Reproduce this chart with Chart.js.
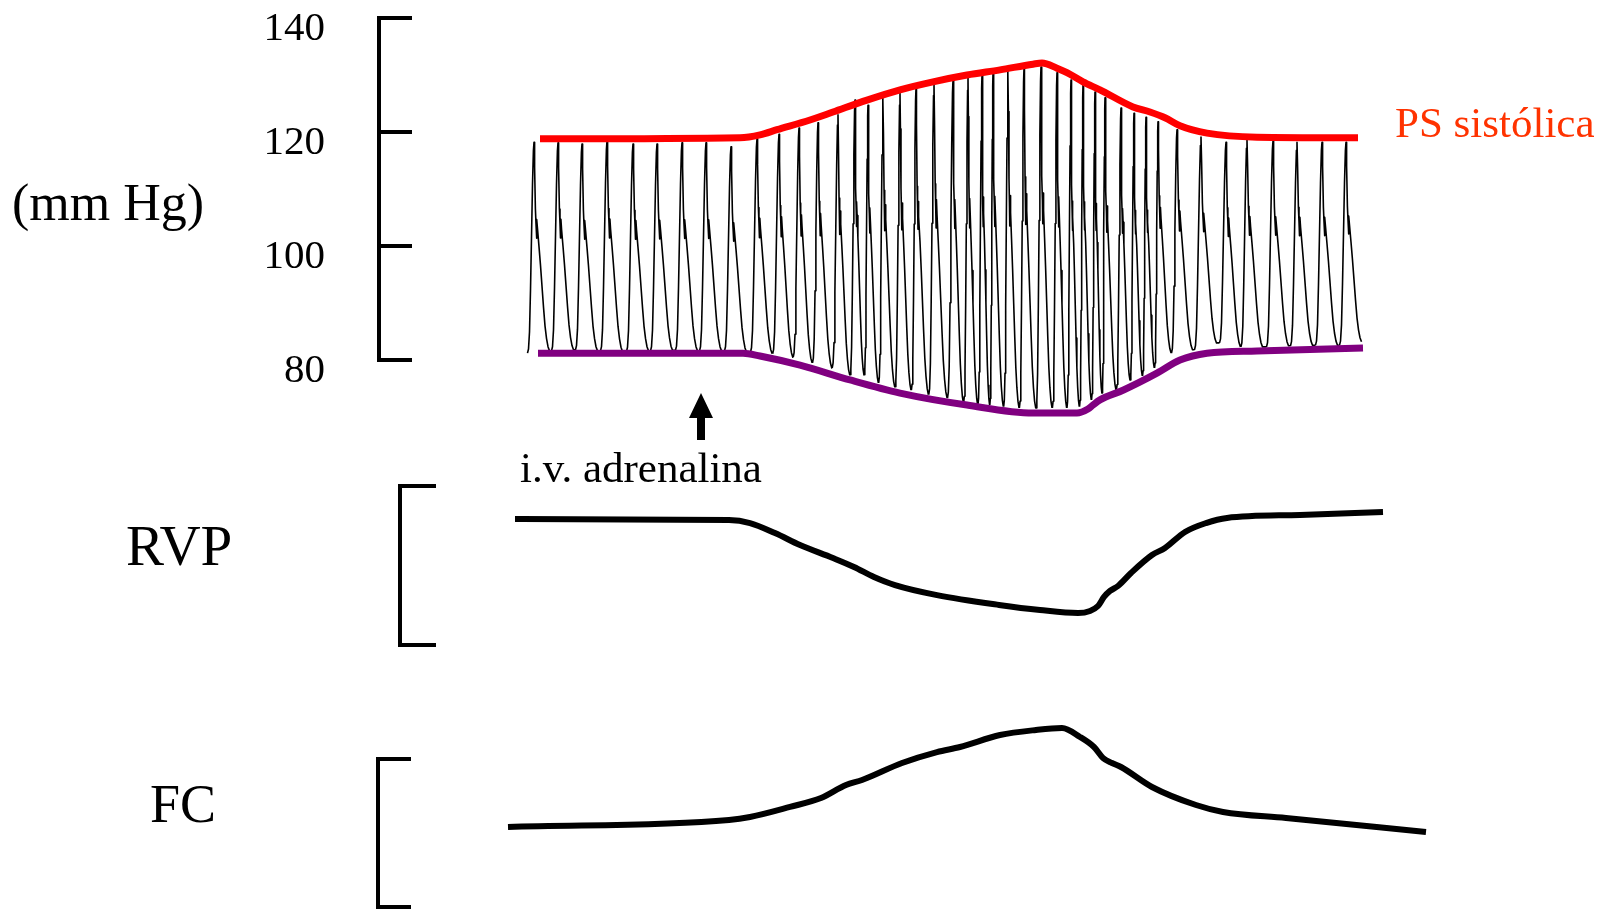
<!DOCTYPE html>
<html lang="es">
<head>
<meta charset="utf-8">
<title>Adrenalina i.v.: PS, RVP y FC</title>
<script src="https://cdn.jsdelivr.net/npm/chart.js@4/dist/chart.umd.min.js"></script>
<style>
  html, body { margin: 0; padding: 0; background: #ffffff; }
  #wrap { position: relative; width: 1597px; height: 911px; }
</style>
</head>
<body>
<div id="wrap"><canvas id="chart"></canvas></div>
<script>
// ---- Data (time in seconds) ----
// Arterial pressure beats: time of each systolic peak, peak pressure and the
// diastolic minimum reached after that beat (mmHg).
const beatTimes = [0.68, 1.16, 1.64, 2.14, 2.66, 3.14, 3.64, 4.12, 4.62, 5.14, 5.58, 5.98,
  6.36, 6.76, 7.10, 7.36, 7.66, 8.00, 8.32, 8.68, 9.06, 9.36, 9.64, 9.86, 10.16, 10.48,
  10.82, 11.14, 11.42, 11.66, 11.90, 12.10, 12.42, 12.68, 12.92, 13.16, 13.54, 14.02,
  14.52, 14.94, 15.46, 15.94, 16.44, 16.92];
const beatPeaks = [118.2, 118.1, 117.9, 118.4, 117.9, 117.9, 118.1, 118.1, 117.4, 118.8, 119.6, 120.7,
  121.6, 123.0, 125.6, 124.7, 126.0, 126.8, 127.7, 128.6, 129.1, 129.6, 130.0, 130.4, 130.7, 131.2,
  131.4, 130.4, 129.1, 128.2, 127.0, 126.0, 124.2, 123.3, 122.6, 121.8, 120.4, 119.1,
  118.2, 118.6, 118.4, 118.2, 118.2, 118.2];
const beatTroughs = [81.6, 81.8, 81.6, 81.5, 81.6, 81.7, 81.6, 81.6, 81.4, 81.1, 80.5, 79.5,
  78.6, 77.4, 77.4, 76.0, 75.3, 74.7, 73.9, 73.3, 72.5, 72.1, 72.1, 71.8, 71.6, 71.6,
  71.6, 71.6, 71.8, 73.0, 74.2, 74.7, 76.5, 77.2, 78.6, 81.2, 81.8, 83.0,
  82.3, 82.3, 82.5, 82.6, 82.6, 83.2];
const startPressure = 81.2;

// Shape of one pulse at resting rate: [seconds from peak, fraction of pulse height]
const upstrokeShape = [[-0.13, 0], [-0.11, 0.02], [-0.09, 0.1], [-0.07, 0.3], [-0.05, 0.55],
  [-0.03, 0.8], [-0.012, 0.96], [0, 1]];
const decayShape = [[0.012, 0.88], [0.028, 0.68], [0.04, 0.61], [0.05, 0.54], [0.058, 0.63],
  [0.072, 0.58], [0.1, 0.5], [0.13, 0.41], [0.16, 0.31], [0.19, 0.21], [0.22, 0.12],
  [0.25, 0.06], [0.28, 0.02], [0.31, 0]];
const restingInterval = 0.45;

// Systolic and diastolic envelopes (mmHg)
const systolicTimes = [0.80, 4.80, 5.20, 5.54, 6.20, 6.66, 7.34, 8.00, 8.66, 9.34, 10.00, 10.66,
  10.84, 11.14, 11.34, 11.66, 12.00, 12.66, 13.00, 13.30, 13.60, 14.14, 15.14, 17.16];
const systolicValues = [118.8, 119.0, 119.5, 120.4, 122.1, 123.5, 125.6, 127.4, 128.8, 130.0, 130.9, 131.9,
  132.1, 131.2, 130.4, 128.8, 127.4, 124.4, 123.5, 122.5, 121.1, 119.8, 119.1, 119.0];
const diastolicTimes = [0.76, 4.86, 5.20, 6.00, 7.00, 8.00, 9.34, 10.66, 11.54, 11.76, 11.86,
  12.00, 12.46, 13.14, 13.60, 14.14, 15.14, 17.26];
const diastolicValues = [81.2, 81.2, 80.7, 79.1, 76.5, 74.2, 72.1, 70.7, 70.7, 71.4, 72.1,
  73.0, 74.7, 77.7, 80.0, 81.2, 81.6, 82.1];

// Peripheral vascular resistance (relative units, bracket = 0..100)
const rvpTimes = [0.30, 4.58, 5.00, 5.50, 6.00, 6.66, 7.08, 7.48, 7.90, 8.74, 9.98, 10.80, 11.56,
  11.80, 11.96, 12.08, 12.20, 12.36, 12.62, 13.04, 13.30, 13.70, 14.12, 14.54, 16.00, 17.66];
const rvpValues = [79.2, 78.6, 76.7, 70.4, 62.9, 54.7, 49.1, 42.8, 37.7, 31.4, 25.2, 22.0, 20.1,
  21.4, 24.5, 30.2, 34.0, 37.1, 45.3, 56.6, 61.0, 71.1, 76.7, 79.9, 81.8, 83.6];

// Heart rate (relative units, bracket = 0..100)
const fcTimes = [0.16, 4.58, 5.00, 5.80, 6.42, 6.92, 7.24, 8.04, 8.74, 9.20, 10.00, 10.72, 11.24,
  11.60, 11.88, 12.06, 12.24, 12.42, 13.04, 13.92, 14.46, 15.72, 18.52];
const fcValues = [54.1, 58.8, 60.8, 67.6, 73.6, 82.4, 85.8, 97.3, 104.7, 108.1, 116.2, 119.6, 120.9,
  114.9, 108.1, 100.7, 97.3, 94.6, 81.1, 68.9, 64.2, 60.1, 50.7];

const pressureTicks = [80, 100, 120, 140];
const bracketRange = [0, 100];
const injectionTime = 4.02;

// ---- Page layout (pixels) ----
const W = 1597, H = 911;
const SERIF = '"Liberation Serif", "Times New Roman", Times, serif';
const panel = {
  pressure: { v0: 80, p0: 360, v1: 140, p1: 18, bracketX: 379, tickEnd: 412 },
  rvp:      { v0: 0,  p0: 645, v1: 100, p1: 486, bracketX: 400, tickEnd: 436 },
  fc:       { v0: 0,  p0: 907, v1: 100, p1: 759, bracketX: 378, tickEnd: 411 }
};
function rangeFor(p) {
  const perUnit = (p.p0 - p.p1) / (p.v1 - p.v0);
  const max = p.v1 + p.p1 / perUnit;
  return { min: max - H / perUnit, max: max };
}
const xPerSecond = 50, xOrigin = 500;

// ---- Build the pulse trace from the beats ----
function pressureTrace() {
  const pts = [];
  let prevTrough = startPressure;
  const n = beatTimes.length;
  for (let i = 0; i < n; i++) {
    const t = beatTimes[i], peak = beatPeaks[i], trough = beatTroughs[i];
    const before = i > 0 ? t - beatTimes[i - 1] : beatTimes[1] - beatTimes[0];
    const after = i < n - 1 ? beatTimes[i + 1] - t : before;
    const sUp = Math.min(1, before / restingInterval);
    const sDown = Math.min(1, after / restingInterval);
    upstrokeShape.forEach(([dt, f]) => pts.push({ x: t + dt * sUp, y: prevTrough + f * (peak - prevTrough) }));
    decayShape.forEach(([dt, f]) => pts.push({ x: t + dt * sDown, y: trough + f * (peak - trough) }));
    const decayEnd = t + decayShape[decayShape.length - 1][0] * sDown;
    if (i < n - 1) {
      const sNext = Math.min(1, after / restingInterval);
      const nextStart = beatTimes[i + 1] + upstrokeShape[0][0] * sNext;
      if (nextStart > decayEnd) pts.push({ x: nextStart, y: trough });
    }
    pts.push({ x: decayEnd, y: null });
    prevTrough = trough;
  }
  return pts;
}
const zip = (xs, ys) => xs.map((x, i) => ({ x: x, y: ys[i] }));

// ---- Brackets, tick labels, titles and the injection arrow ----
const decorations = {
  id: 'decorations',
  afterDatasetsDraw(chart) {
    const ctx = chart.ctx;
    const sx = chart.scales.x, sp = chart.scales.yP, sr = chart.scales.yR, sf = chart.scales.yF;
    ctx.save();
    ctx.strokeStyle = '#000';
    ctx.fillStyle = '#000';
    ctx.lineWidth = 4;
    ctx.lineCap = 'butt';

    // pressure bracket with ticks
    const pb = panel.pressure;
    const top = sp.getPixelForValue(pressureTicks[pressureTicks.length - 1]);
    const bot = sp.getPixelForValue(pressureTicks[0]);
    ctx.beginPath();
    ctx.moveTo(pb.bracketX, top - 2);
    ctx.lineTo(pb.bracketX, bot + 2);
    pressureTicks.forEach(v => {
      const y = sp.getPixelForValue(v);
      ctx.moveTo(pb.bracketX - 2, y);
      ctx.lineTo(pb.tickEnd, y);
    });
    ctx.stroke();

    ctx.font = '41px ' + SERIF;
    ctx.textAlign = 'right';
    ctx.textBaseline = 'alphabetic';
    pressureTicks.forEach(v => {
      ctx.fillText(String(v), 325, sp.getPixelForValue(v) + 22);
    });

    // plain brackets for RVP and FC
    [[panel.rvp, sr], [panel.fc, sf]].forEach(([p, s]) => {
      const yt = s.getPixelForValue(bracketRange[1]);
      const yb = s.getPixelForValue(bracketRange[0]);
      ctx.beginPath();
      ctx.moveTo(p.tickEnd, yt);
      ctx.lineTo(p.bracketX, yt);
      ctx.lineTo(p.bracketX, yb);
      ctx.lineTo(p.tickEnd, yb);
      ctx.lineJoin = 'miter';
      ctx.stroke();
    });

    // axis titles
    ctx.textAlign = 'left';
    ctx.font = '52px ' + SERIF;
    ctx.fillText('(mm Hg)', 12, 220);
    ctx.font = '57px ' + SERIF;
    ctx.fillText('RVP', 126, 565);
    ctx.font = '54px ' + SERIF;
    ctx.fillText('FC', 150, 822);

    // systolic label
    ctx.fillStyle = '#ff3300';
    ctx.font = '43px ' + SERIF;
    ctx.fillText('PS sistólica', 1395, 137);

    // injection arrow
    ctx.fillStyle = '#000';
    const ax = sx.getPixelForValue(injectionTime);
    const base = sp.getPixelForValue(pressureTicks[0]);
    ctx.beginPath();
    ctx.moveTo(ax, base + 33);
    ctx.lineTo(ax + 12, base + 58);
    ctx.lineTo(ax + 4, base + 58);
    ctx.lineTo(ax + 4, base + 80);
    ctx.lineTo(ax - 4, base + 80);
    ctx.lineTo(ax - 4, base + 58);
    ctx.lineTo(ax - 12, base + 58);
    ctx.closePath();
    ctx.fill();
    ctx.font = '43px ' + SERIF;
    ctx.fillText('i.v. adrenalina', 520, 482);
    ctx.restore();
  }
};

const pR = rangeFor(panel.pressure), rR = rangeFor(panel.rvp), fR = rangeFor(panel.fc);

new Chart(document.getElementById('chart'), {
  type: 'line',
  data: {
    datasets: [
      { label: 'PS sistólica', data: zip(systolicTimes, systolicValues), yAxisID: 'yP',
        borderColor: '#ff0000', borderWidth: 7, cubicInterpolationMode: 'monotone', order: 0 },
      { label: 'PS diastólica', data: zip(diastolicTimes, diastolicValues), yAxisID: 'yP',
        borderColor: '#800080', borderWidth: 7, cubicInterpolationMode: 'monotone', order: 0 },
      { label: 'Presión arterial', data: pressureTrace(), yAxisID: 'yP',
        borderColor: '#000000', borderWidth: 1.6, tension: 0, spanGaps: false, order: 1,
        borderJoinStyle: 'round' },
      { label: 'RVP', data: zip(rvpTimes, rvpValues), yAxisID: 'yR',
        borderColor: '#000000', borderWidth: 6, cubicInterpolationMode: 'monotone', order: 1 },
      { label: 'FC', data: zip(fcTimes, fcValues), yAxisID: 'yF',
        borderColor: '#000000', borderWidth: 6, cubicInterpolationMode: 'monotone', order: 1 }
    ]
  },
  options: {
    responsive: true,
    maintainAspectRatio: false,
    animation: false,
    events: [],
    layout: { padding: 0 },
    elements: { point: { radius: 0 }, line: { fill: false } },
    plugins: { legend: { display: false }, tooltip: { enabled: false }, title: { display: false } },
    scales: {
      x: { type: 'linear', display: false, bounds: 'data',
           min: -xOrigin / xPerSecond, max: (W - xOrigin) / xPerSecond },
      yP: { type: 'linear', display: false, bounds: 'data', min: pR.min, max: pR.max },
      yR: { type: 'linear', display: false, bounds: 'data', min: rR.min, max: rR.max },
      yF: { type: 'linear', display: false, bounds: 'data', min: fR.min, max: fR.max }
    }
  },
  plugins: [decorations]
});
</script>
</body>
</html>
